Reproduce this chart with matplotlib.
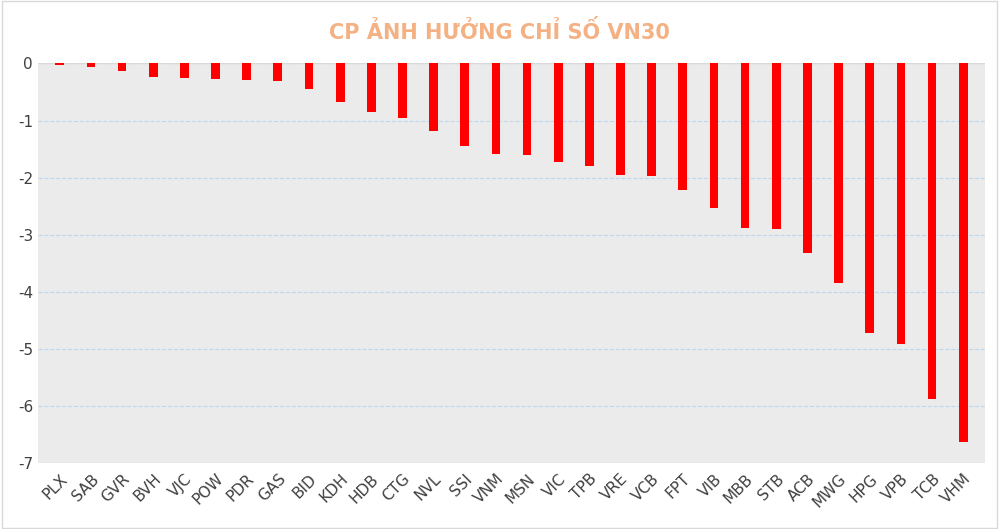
import numpy as np
import matplotlib.pyplot as plt

tickers = ['PLX', 'SAB', 'GVR', 'BVH', 'VJC', 'POW', 'PDR', 'GAS', 'BID', 'KDH',
           'HDB', 'CTG', 'NVL', 'SSI', 'VNM', 'MSN', 'VIC', 'TPB', 'VRE', 'VCB',
           'FPT', 'VIB', 'MBB', 'STB', 'ACB', 'MWG', 'HPG', 'VPB', 'TCB', 'VHM']
impact = [-0.03, -0.07, -0.14, -0.23, -0.25, -0.27, -0.29, -0.31, -0.45, -0.68,
          -0.85, -0.96, -1.19, -1.45, -1.58, -1.61, -1.72, -1.79, -1.95, -1.98,
          -2.21, -2.53, -2.88, -2.90, -3.32, -3.84, -4.72, -4.91, -5.88, -6.64]
yticks = [0, -1, -2, -3, -4, -5, -6, -7]

fig = plt.figure(figsize=(9.99, 5.29), dpi=100)
ax = fig.add_axes([0.038, 0.125, 0.948, 0.755])
ax.set_facecolor('#ebebeb')

x = np.arange(len(tickers))
ax.bar(x, impact, width=0.28, color='#ff0000', zorder=3)

ax.set_xlim(-0.7, len(tickers) - 0.3)
ax.set_ylim(-7, 0)
ax.set_yticks(yticks)
ax.set_yticklabels([str(v) for v in yticks])
ax.set_xticks(x)
ax.set_xticklabels(tickers, rotation=45, ha='right', rotation_mode='anchor')
ax.tick_params(length=0, labelsize=11, colors='#404040')
ax.tick_params(axis='x', pad=6)
ax.grid(axis='y', color='#bdd7ee', linestyle='--', linewidth=0.8, zorder=0)
for s in ax.spines.values():
    s.set_visible(False)
ax.axhline(0, color='#d9d9d9', linewidth=1, zorder=2)

fig.text(0.5, 0.94, 'CP ẢNH HƯỞNG CHỈ SỐ VN30', ha='center', va='center',
         fontsize=15, fontweight='bold', color='#f4b183')
fig.patches.append(plt.Rectangle((0.002, 0.002), 0.996, 0.996, transform=fig.transFigure,
                                 fill=False, edgecolor='#d9d9d9', linewidth=1))

fig.savefig('out.png', dpi=100)
